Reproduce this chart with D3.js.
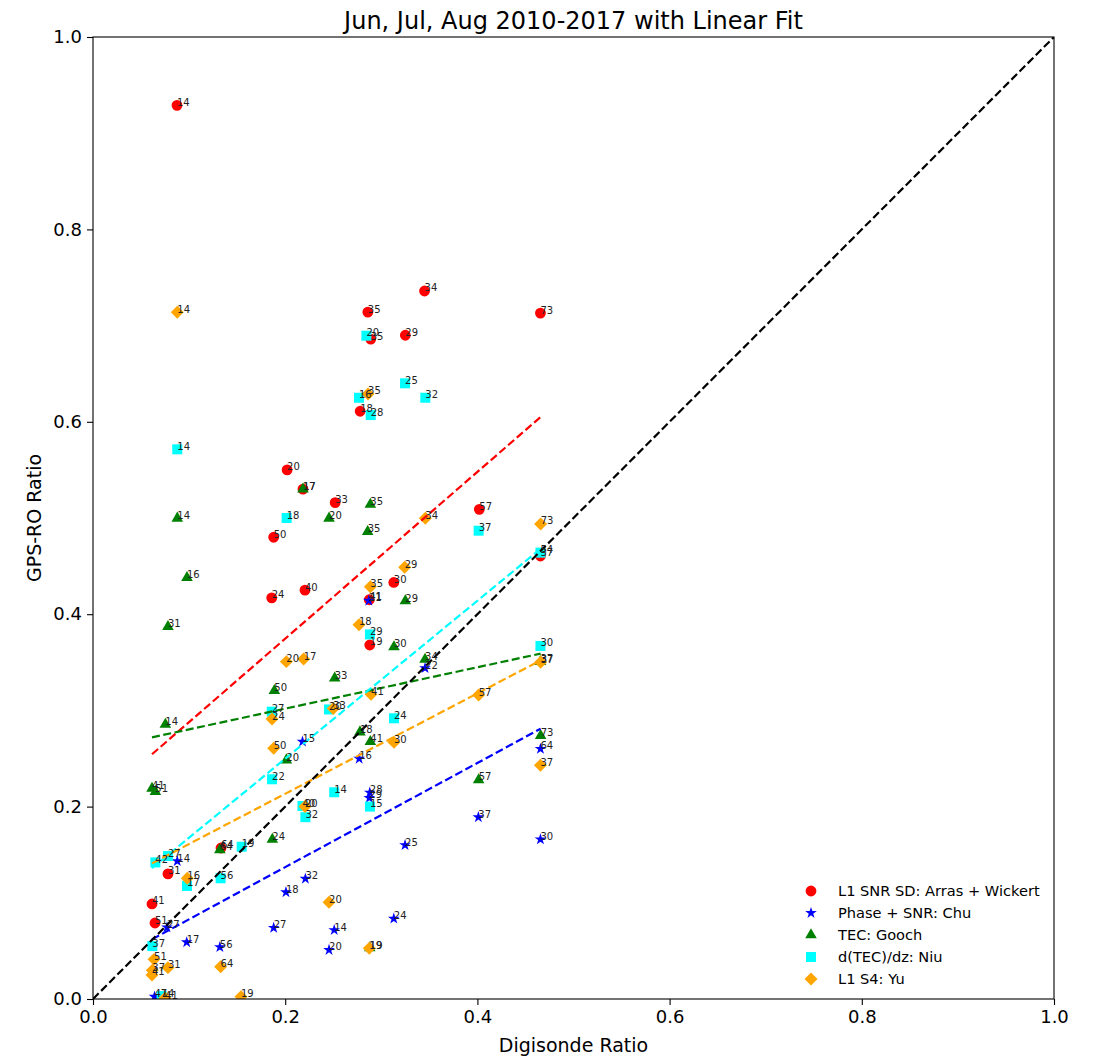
<!DOCTYPE html>
<html>
<head>
<meta charset="utf-8">
<script src="https://cdn.jsdelivr.net/npm/d3@7"></script>
<style>
  html, body { margin: 0; padding: 0; background: #fff; }
  svg { display: block; font-family: "DejaVu Sans", sans-serif; }
</style>
</head>
<body>
<svg id="chart" width="1097" height="1058"></svg>
<script>
// ---- data -------------------------------------------------------------
const titleText = "Jun, Jul, Aug 2010-2017 with Linear Fit";
const xTicks = [0.0, 0.2, 0.4, 0.6, 0.8, 1.0];
const yTicks = [0.0, 0.2, 0.4, 0.6, 0.8, 1.0];

// L1 SNR SD: Arras + Wickert
const arrasLabels = ["14","34","35","73","29","35","18","20","17","33","57","50","30","40","24","41","19","37","31","41","51","64"];
const arrasX = [0.0874,0.345,0.286,0.4656,0.325,0.289,0.278,0.202,0.2185,0.252,0.402,0.188,0.313,0.2206,0.186,0.2875,0.288,0.4656,0.078,0.0614,0.0645,0.1332];
const arrasY = [0.929,0.736,0.714,0.713,0.690,0.686,0.611,0.550,0.530,0.516,0.509,0.480,0.433,0.425,0.417,0.415,0.368,0.4605,0.130,0.0988,0.079,0.157];

// Phase + SNR: Chu
const chuLabels = ["21","22","15","16","28","29","25","14","32","18","27","14","24","20","17","56","27","37","30","64","47"];
const chuX = [0.287,0.3455,0.218,0.277,0.288,0.2875,0.3247,0.0877,0.221,0.2008,0.188,0.251,0.313,0.2456,0.0975,0.132,0.077,0.401,0.4656,0.4656,0.064];
const chuY = [0.414,0.344,0.2675,0.2498,0.2145,0.209,0.160,0.1434,0.125,0.111,0.074,0.0717,0.0835,0.051,0.059,0.054,0.0745,0.189,0.166,0.260,0.0024];

// TEC: Gooch
const goochLabels = ["14","17","20","35","35","16","29","31","30","34","33","50","14","18","41","20","41","51","24","64","57","73","37","19"];
const goochX = [0.0877,0.2185,0.2456,0.2886,0.2858,0.0978,0.325,0.078,0.3132,0.3455,0.2515,0.1887,0.0753,0.2778,0.2886,0.2012,0.0614,0.0649,0.1866,0.132,0.4013,0.4658,0.4656,0.288];
const goochY = [0.4997,0.530,0.4997,0.514,0.4858,0.438,0.4137,0.387,0.366,0.353,0.3334,0.3205,0.2855,0.2775,0.2675,0.2484,0.219,0.2155,0.166,0.155,0.2277,0.2737,0.3507,0.053];

// d(TEC)/dz: Niu
const niuLabels = ["20","25","32","16","28","14","18","37","54","29","30","20","27","24","22","14","15","40","32","19","56","42","27","17","37","14"];
const niuX = [0.2845,0.3247,0.3458,0.2768,0.289,0.0877,0.2015,0.4013,0.4656,0.2882,0.4656,0.2456,0.186,0.3132,0.1863,0.251,0.2882,0.218,0.221,0.1547,0.1328,0.0649,0.078,0.0978,0.0617,0.0714];
const niuY = [0.6895,0.640,0.625,0.625,0.607,0.5714,0.500,0.4868,0.464,0.379,0.367,0.301,0.2987,0.2918,0.2284,0.2149,0.200,0.2006,0.189,0.1583,0.1255,0.142,0.1486,0.1175,0.055,0.003];

// L1 S4: Yu
const yuLabels = ["14","35","34","73","29","35","18","20","17","41","57","37","33","24","30","50","37","20","20","16","19","51","31","64","37","41","19","41"];
const yuX = [0.0877,0.2862,0.3458,0.4658,0.3243,0.2886,0.2768,0.2012,0.2192,0.2893,0.4013,0.4658,0.250,0.1863,0.3132,0.188,0.4656,0.2206,0.2456,0.0981,0.2875,0.0635,0.078,0.1328,0.0617,0.0614,0.154,0.075];
const yuY = [0.7138,0.629,0.4997,0.4938,0.4487,0.4286,0.389,0.3507,0.3534,0.3167,0.316,0.350,0.302,0.291,0.2668,0.2606,0.243,0.200,0.1005,0.1255,0.0527,0.0412,0.0326,0.0336,0.030,0.025,0.0024,0.001];

// linear fits: y values at the ends of the fitted x range
const fitX = [0.0614, 0.4658];
const arrasFit = [0.2544, 0.605];
const chuFit = [0.062, 0.281];
const goochFit = [0.272, 0.359];
const niuFit = [0.136, 0.468];
const yuFit = [0.141, 0.352];

// ---- layout -----------------------------------------------------------
const svg = d3.select("#chart");
const plotLeft = 93, plotRight = 1054, plotTop = 37, plotBottom = 999;
const x = d3.scaleLinear().domain([0, 1]).range([plotLeft, plotRight]);
const y = d3.scaleLinear().domain([0, 1]).range([plotBottom, plotTop]);

const series = [
  { name: "L1 SNR SD: Arras + Wickert", color: "red",    symbol: d3.symbolCircle,   size: 92,  rot: 0,  xs: arrasX, ys: arrasY, labels: arrasLabels, fit: arrasFit },
  { name: "Phase + SNR: Chu",           color: "blue",   symbol: d3.symbolStar,     size: 42,  rot: 0,  xs: chuX,   ys: chuY,   labels: chuLabels,   fit: chuFit },
  { name: "TEC: Gooch",                 color: "green",  symbol: d3.symbolTriangle, size: 58,  rot: 0,  xs: goochX, ys: goochY, labels: goochLabels, fit: goochFit },
  { name: "d(TEC)/dz: Niu",             color: "cyan",   symbol: d3.symbolSquare,   size: 100, rot: 0,  xs: niuX,   ys: niuY,   labels: niuLabels,   fit: niuFit },
  { name: "L1 S4: Yu",                  color: "orange", symbol: d3.symbolSquare,   size: 84,  rot: 45, xs: yuX,    ys: yuY,    labels: yuLabels,    fit: yuFit }
];

const plot = svg.append("g");
plot.append("defs").append("clipPath").attr("id", "clip")
  .append("rect").attr("x", plotLeft).attr("y", plotTop)
  .attr("width", plotRight - plotLeft).attr("height", plotBottom - plotTop);

// markers
const markLayer = plot.append("g").attr("clip-path", "url(#clip)");
series.forEach(s => {
  const pts = s.xs.map((v, i) => ({ x: v, y: s.ys[i] }));
  markLayer.append("g").selectAll("path").data(pts).join("path")
    .attr("d", d3.symbol().type(s.symbol).size(s.size))
    .attr("transform", d => `translate(${x(d.x)},${y(d.y)}) rotate(${s.rot})`)
    .attr("fill", s.color);
});

// fitted lines and the 1:1 reference line
const lineLayer = plot.append("g").attr("clip-path", "url(#clip)");
const line = d3.line().x(d => x(d[0])).y(d => y(d[1]));
series.forEach(s => {
  lineLayer.append("path")
    .datum([[fitX[0], s.fit[0]], [fitX[1], s.fit[1]]])
    .attr("d", line).attr("fill", "none")
    .attr("stroke", s.color).attr("stroke-width", 2.2)
    .attr("stroke-dasharray", "8,3.5");
});
lineLayer.append("path")
  .datum([[0, 0], [1, 1]])
  .attr("d", line).attr("fill", "none")
  .attr("stroke", "black").attr("stroke-width", 2.2)
  .attr("stroke-dasharray", "8,3.5");

// point labels
const textLayer = plot.append("g");
series.forEach(s => {
  const pts = s.xs.map((v, i) => ({ x: v, y: s.ys[i], t: s.labels[i] }));
  textLayer.append("g").selectAll("text").data(pts).join("text")
    .attr("x", d => x(d.x))
    .attr("y", d => y(d.y) + 0.5)
    .attr("font-size", 10)
    .attr("fill", "#222")
    .text(d => d.t);
});

// axes
const fmt = d3.format(".1f");
const xAxis = svg.append("g").attr("transform", `translate(0,${plotBottom})`)
  .call(d3.axisBottom(x).tickValues(xTicks).tickFormat(fmt).tickSize(6).tickPadding(5));
const yAxis = svg.append("g").attr("transform", `translate(${plotLeft},0)`)
  .call(d3.axisLeft(y).tickValues(yTicks).tickFormat(fmt).tickSize(6).tickPadding(5));
[xAxis, yAxis].forEach(a => {
  a.select(".domain").remove();
  a.selectAll("text").attr("font-size", 18).attr("font-family", "DejaVu Sans").attr("fill", "#000");
  a.selectAll("line").attr("stroke", "#000").attr("stroke-width", 1.1);
});
svg.append("rect").attr("x", plotLeft).attr("y", plotTop)
  .attr("width", plotRight - plotLeft).attr("height", plotBottom - plotTop)
  .attr("fill", "none").attr("stroke", "#000").attr("stroke-width", 1.1);

// titles
svg.append("text").attr("x", (plotLeft + plotRight) / 2).attr("y", 29)
  .attr("text-anchor", "middle").attr("font-size", 24).text(titleText);
svg.append("text").attr("x", (plotLeft + plotRight) / 2).attr("y", 1052)
  .attr("text-anchor", "middle").attr("font-size", 19).text("Digisonde Ratio");
svg.append("text").attr("transform", `translate(41,${(plotTop + plotBottom) / 2}) rotate(-90)`)
  .attr("text-anchor", "middle").attr("font-size", 19).text("GPS-RO Ratio");

// legend
const legend = svg.append("g").attr("transform", "translate(811,891)");
series.forEach((s, i) => {
  const g = legend.append("g").attr("transform", `translate(0,${i * 22})`);
  g.append("path")
    .attr("d", d3.symbol().type(s.symbol).size(s.size))
    .attr("transform", `rotate(${s.rot})`)
    .attr("fill", s.color);
  g.append("text").attr("x", 27).attr("y", 5).attr("font-size", 14.6).text(s.name);
});
</script>
</body>
</html>
